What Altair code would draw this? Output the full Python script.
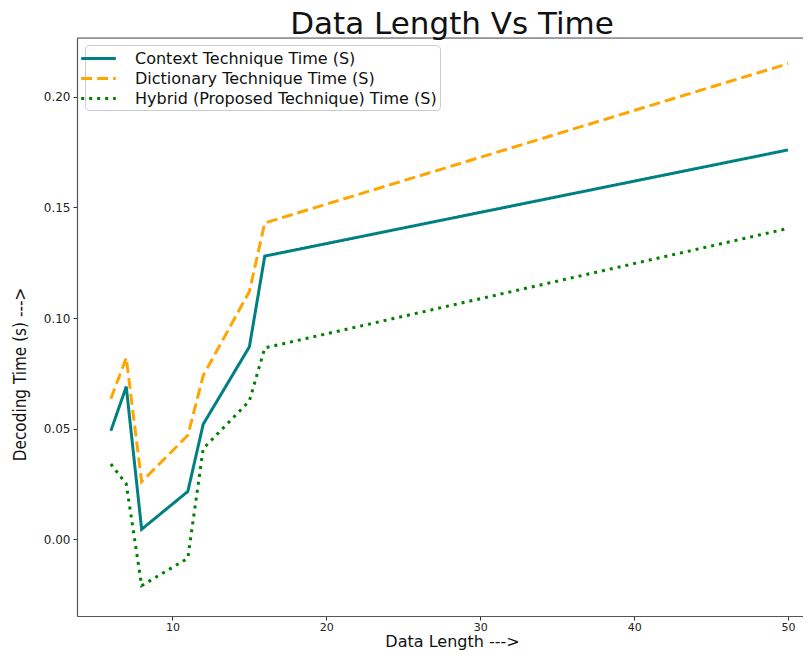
import altair as alt
import pandas as pd

data_length = [6, 7, 8, 11, 12, 15, 16, 50]
context_time = [0.049, 0.069, 0.0045, 0.0216, 0.052, 0.087, 0.128, 0.176]
dictionary_time = [0.0635, 0.082, 0.026, 0.047, 0.074, 0.112, 0.143, 0.215]
hybrid_time = [0.034, 0.025, -0.021, -0.0086, 0.041, 0.0625, 0.0865, 0.1405]
series_names = [
    "Context Technique Time (S)",
    "Dictionary Technique Time (S)",
    "Hybrid (Proposed Technique) Time (S)",
]
series_colors = ["#008080", "#FFA500", "#008000"]
series_dashes = [[1, 0], [11, 5], [3, 5]]
x_ticks = [10, 20, 30, 40, 50]
y_ticks = [0.0, 0.05, 0.10, 0.15, 0.20]

rows = []
for name, vals in zip(series_names, [context_time, dictionary_time, hybrid_time]):
    for x, y in zip(data_length, vals):
        rows.append({"length": x, "time": y, "series": name})
df = pd.DataFrame(rows)

FONT = "DejaVu Sans"
PLOT_W = 726
PLOT_H = 578
FRAME = "#555555"

legend_cfg = alt.Legend(
    title=None,
    orient="none",
    legendX=8,
    legendY=7,
    symbolType="M-2,0L2,0",
    symbolSize=300,
    symbolStrokeWidth=3,
    labelFont=FONT,
    labelFontSize=16,
    labelColor="#111",
    labelOffset=26,
    labelLimit=500,
    rowPadding=1,
    padding=3,
    strokeColor="#cccccc",
    fillColor="white",
    cornerRadius=4,
)

lines = (
    alt.Chart(df)
    .mark_line(strokeWidth=3, clip=True)
    .encode(
        x=alt.X(
            "length:Q",
            scale=alt.Scale(domain=[3.8, 50.97], nice=False, zero=False),
            axis=alt.Axis(
                values=x_ticks,
                title="Data Length --->",
                titleFont=FONT,
                titleFontSize=16,
                titleFontWeight="normal",
                titleColor="#111",
                titlePadding=1,
                titleX=375,
                labelFont=FONT,
                labelFontSize=11,
                labelColor="#222",
                tickSize=4,
                tickColor="#333",
                labelPadding=1,
                grid=False,
                domain=True,
                domainColor=FRAME,
                domainWidth=1.2,
            ),
        ),
        y=alt.Y(
            "time:Q",
            scale=alt.Scale(domain=[-0.0347, 0.2266], nice=False, zero=False),
            axis=alt.Axis(
                values=y_ticks,
                format=".2f",
                title="Decoding Time (s) --->",
                titleFont="DejaVu Sans Condensed, DejaVu Sans, sans-serif",
                titleFontSize=17,
                titleFontWeight="normal",
                titleColor="#111",
                titleAngle=270,
                titleAlign="center",
                titleBaseline="bottom",
                titleX=-48,
                titleY=336,
                labelFont=FONT,
                labelFontSize=12,
                labelColor="#222",
                tickSize=4,
                tickColor="#333",
                labelPadding=3,
                grid=False,
                domain=True,
                domainColor=FRAME,
                domainWidth=1.2,
            ),
        ),
        color=alt.Color(
            "series:N",
            sort=series_names,
            scale=alt.Scale(domain=series_names, range=series_colors),
            legend=legend_cfg,
        ),
        strokeDash=alt.StrokeDash(
            "series:N",
            sort=series_names,
            scale=alt.Scale(domain=series_names, range=series_dashes),
            legend=legend_cfg,
        ),
    )
)

top_frame = (
    alt.Chart(pd.DataFrame({"edge": ["top"]}))
    .mark_rule(color=FRAME, strokeWidth=1.2)
    .encode(x=alt.value(0), x2=alt.value(PLOT_W), y=alt.value(0))
)

chart = (
    alt.layer(lines, top_frame)
    .properties(
        width=PLOT_W,
        height=PLOT_H,
        autosize=alt.AutoSizeParams(type="none"),
        padding={"left": 69, "top": 30, "right": 0, "bottom": 34},
        title=alt.TitleParams(
            "Data Length Vs Time",
            font=FONT,
            fontSize=31,
            fontWeight="normal",
            color="#111",
            anchor="middle",
            baseline="bottom",
            offset=-35,
            dx=12,
        ),
    )
    .configure_view(stroke=None)
    .configure(background="white")
)

chart.save("out.html", embed_options={"renderer": "svg", "actions": False})
